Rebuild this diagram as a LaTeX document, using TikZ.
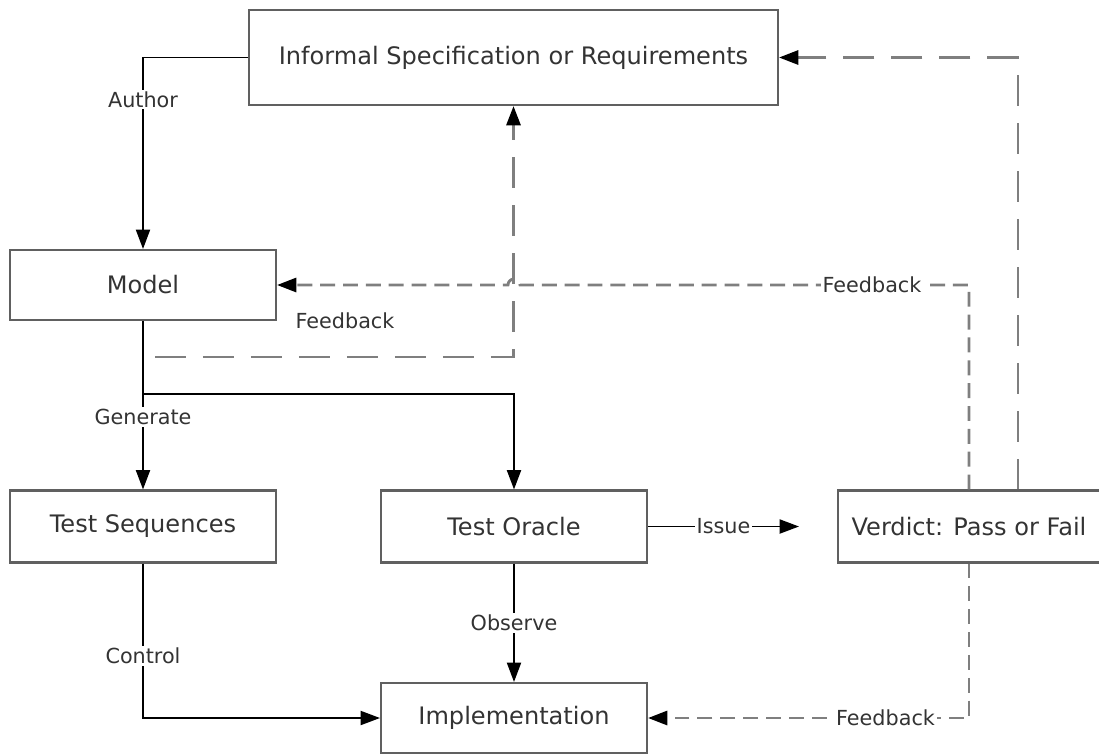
\documentclass[tikz,border=0pt]{standalone}
\usepackage{fontspec}
\setmainfont{DejaVu Sans}
\usepackage{xcolor}
\usetikzlibrary{arrows.meta}
\definecolor{vboxgray}{HTML}{606060}
\definecolor{vdashgray}{HTML}{7f7f7f}
\definecolor{vtext}{HTML}{333333}

\begin{document}
\begin{tikzpicture}[x=0.02cm, y=-0.02cm,
		box/.style={draw=vboxgray, line width=1.2pt, inner sep=0pt, text=vtext, font=\fontsize{13.7}{16}\selectfont, minimum width=5.32cm, minimum height=1.44cm},
		flow/.style={draw=black, line width=1pt, -{Triangle[length=11pt, width=8pt]}},
		fb/.style={draw=vdashgray, line width=1.6pt, dash pattern=on 17.6pt off 9.7pt, -{Triangle[length=11pt, width=8pt, color=black]}},
		fbshort/.style={fb, dash pattern=on 8.5pt off 4.5pt},
		lab/.style={fill=white, inner sep=1pt, text=vtext, font=\fontsize{11.8}{14}\selectfont}]
		\useasboundingbox (0,0) rectangle (1099,755);
		\clip (0,0) rectangle (1099,755);
		% boxes
		\node[box, minimum width=10.58cm, minimum height=1.9cm] (spec) at (513.5,57.5) {Informal Specification or Requirements};
		\node[box, minimum height=1.4cm] (model) at (143,285) {Model};
		\node[box] (seq) at (143,526.5) {Test Sequences};
		\node[box] (oracle) at (514,526.5) {Test Oracle};
		\node[box, minimum width=5.24cm] (verdict) at (969,526.5) {Verdict: Pass or Fail};
		\node[box, minimum height=1.4cm] (impl) at (514,718) {Implementation};
		% solid flow
		\draw[flow] (spec.west) -| node[lab, pos=0.61] {Author} (model.north);
		\draw[flow] (model.south) -- node[lab, pos=0.57] {Generate} (seq.north);
		\draw[flow] (model.south) -- ++(0,73) -| (oracle.north);
		\draw[flow] (oracle.east) -- node[lab] {Issue} ([xshift=-0.76cm]verdict.west);
		\draw[flow] (oracle.south) -- node[lab] {Observe} (impl.north);
		\draw[flow] (seq.south) |- node[lab, pos=0.3] {Control} (impl.west);
		% feedback
		\coordinate (fbstart) at (155,357);
		\coordinate (hop) at (520,285);
		\draw[fb] ([xshift=0.98cm]verdict.north) |- (spec.east);
		\draw[fb] (fbstart) -| (spec.south);
		\node[lab, fill=none] (fblabel) at (345,321) {Feedback};
		\draw[fbshort] (verdict.north) |- (hop) arc[start angle=0, end angle=-180, radius=6] -- (model.east);
		\node[lab] (fbmodel) at (872,285) {Feedback};
		\draw[fbshort] (verdict.south) |- node[lab, pos=0.63] {Feedback} (impl.east);
	\end{tikzpicture}
\end{document}
